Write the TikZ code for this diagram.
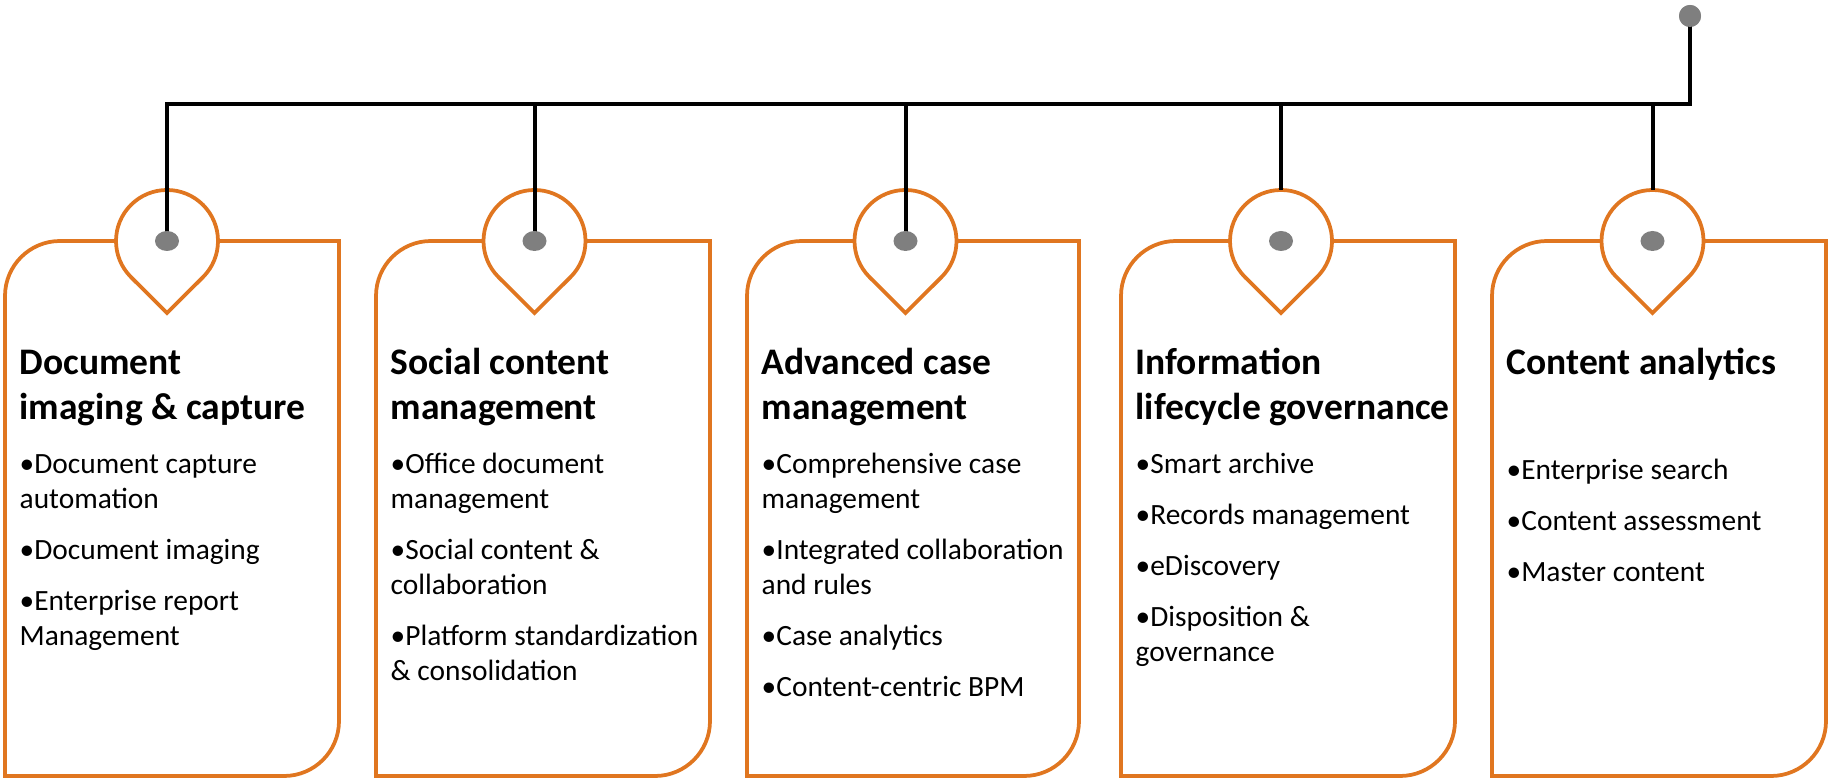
\documentclass[tikz,border=0pt]{standalone}
\usepackage{fontspec}
\setmainfont{Carlito}
\usetikzlibrary{shapes.geometric}
\definecolor{cardorange}{RGB}{224,118,32}
\definecolor{dotgray}{RGB}{127,127,127}
\newcommand{\cardoutline}[3]{% left, right, pin x
  \draw[card] (#3,538) -- ({#1+55},538) arc[start angle=90,end angle=180,radius=55]
    -- (#1,3) -- ({#2-55},3) arc[start angle=-90,end angle=0,radius=55]
    -- (#2,538) -- cycle;}
\newcommand{\pinmark}[2]{% name, x
  \node[pinc] (#1) at (#2,538) {};
  \draw[pinshape] (#1.-45) arc[start angle=-45,end angle=225,radius=51]
    -- ([yshift=-72pt]#1.center) -- cycle;}
\begin{document}
\begin{tikzpicture}[x=1pt,y=1pt,
  card/.style={draw=cardorange, line width=3.75pt},
  pinshape/.style={draw=cardorange, line width=3.75pt, fill=white},
  conn/.style={draw=black, line width=4pt},
  gdot/.style={ellipse, fill=dotgray, minimum width=24pt, minimum height=20pt, inner sep=0pt},
  hubdot/.style={circle, fill=dotgray, minimum size=22pt, inner sep=0pt},
  ttl/.style={anchor=base west, inner sep=0pt, font=\bfseries\fontsize{37.5}{44}\selectfont},
  itm/.style={anchor=base west, inner sep=0pt, font=\fontsize{29.4}{35}\selectfont},
  pinc/.style={circle, minimum size=102pt, inner sep=0pt, outer sep=0pt}
]
\useasboundingbox (0,0) rectangle (1828,779);

% cards
\cardoutline{5}{339}{167}
\cardoutline{376}{710}{534.5}
\cardoutline{747}{1079}{905.5}
\cardoutline{1121}{1455}{1281}
\cardoutline{1492}{1826}{1652.5}

% pins
\pinmark{pin1}{167}
\pinmark{pin2}{534.5}
\pinmark{pin3}{905.5}
\pinmark{pin4}{1281}
\pinmark{pin5}{1652.5}

% connectors
\coordinate (bus) at (0,674.5);
\node[hubdot] (hub) at (1690,763) {};
\draw[conn] (hub.center) -- (hub.center |- bus) -- (pin1.center |- bus) -- (pin1.center);
\draw[conn] (pin2.center |- bus) -- (pin2.center);
\draw[conn] (pin3.center |- bus) -- (pin3.center);
\draw[conn] (pin4.north |- bus) -- (pin4.north);
\draw[conn] (pin5.north |- bus) -- (pin5.north);
\node[hubdot] (hubtop) at (hub.center) {};

% dots
\node[gdot] (d1) at (pin1.center) {};
\node[gdot] (d2) at (pin2.center) {};
\node[gdot] (d3) at (pin3.center) {};
\node[gdot] (d4) at (pin4.center) {};
\node[gdot] (d5) at (pin5.center) {};

% card 1
\node[ttl] (c1t1) at (19.5,404) {Document};
\node[ttl] (c1t2) at (19.5,359) {imaging \& capture};
\node[itm] (c1i1) at (19.5,305) {•Document capture};
\node[itm] (c1i2) at (19.5,270) {automation};
\node[itm] (c1i3) at (19.5,219) {•Document imaging};
\node[itm] (c1i4) at (19.5,168) {•Enterprise report};
\node[itm] (c1i5) at (19.5,133) {Management};

% card 2
\node[ttl] (c2t1) at (390.5,404) {Social content};
\node[ttl] (c2t2) at (390.5,359) {management};
\node[itm] (c2i1) at (390.5,305) {•Office document};
\node[itm] (c2i2) at (390.5,270) {management};
\node[itm] (c2i3) at (390.5,219) {•Social content \&};
\node[itm] (c2i4) at (390.5,184) {collaboration};
\node[itm] (c2i5) at (390.5,133) {•Platform standardization};
\node[itm] (c2i6) at (390.5,98) {\& consolidation};

% card 3
\node[ttl] (c3t1) at (761.5,404) {Advanced case};
\node[ttl] (c3t2) at (761.5,359) {management};
\node[itm] (c3i1) at (761.5,305) {•Comprehensive case};
\node[itm] (c3i2) at (761.5,270) {management};
\node[itm] (c3i3) at (761.5,219) {•Integrated collaboration};
\node[itm] (c3i4) at (761.5,184) {and rules};
\node[itm] (c3i5) at (761.5,133) {•Case analytics};
\node[itm] (c3i6) at (761.5,82) {•Content-centric BPM};

% card 4
\node[ttl] (c4t1) at (1135.5,404) {Information};
\node[ttl] (c4t2) at (1135.5,359) {lifecycle governance};
\node[itm] (c4i1) at (1135.5,305) {•Smart archive};
\node[itm] (c4i2) at (1135.5,254) {•Records management};
\node[itm] (c4i3) at (1135.5,203) {•eDiscovery};
\node[itm] (c4i4) at (1135.5,152) {•Disposition \&};
\node[itm] (c4i5) at (1135.5,117) {governance};

% card 5
\node[ttl] (c5t1) at (1506.5,404) {Content analytics};
\node[itm] (c5i1) at (1506.5,299) {•Enterprise search};
\node[itm] (c5i2) at (1506.5,248) {•Content assessment};
\node[itm] (c5i3) at (1506.5,197) {•Master content};
\end{tikzpicture}
\end{document}
